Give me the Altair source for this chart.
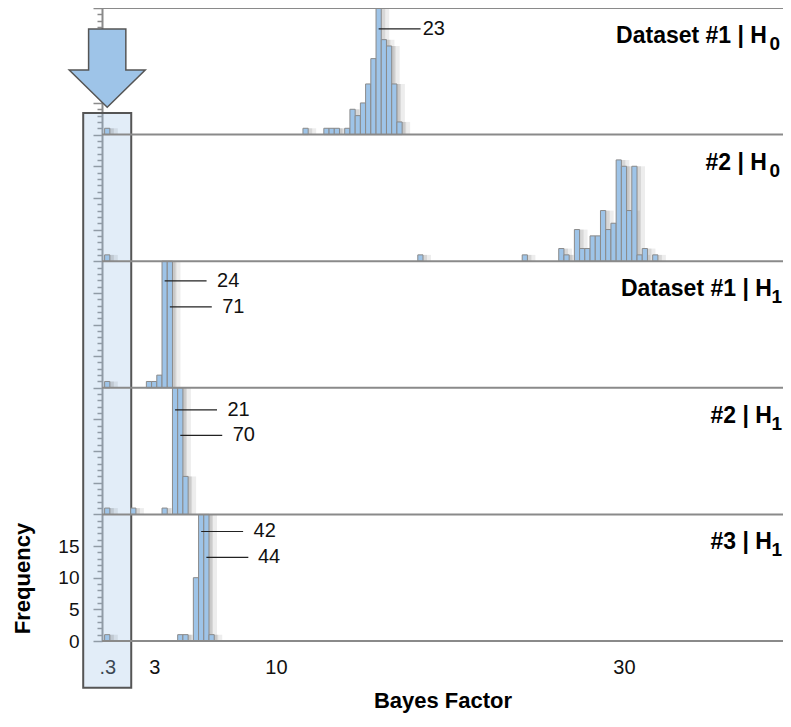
import altair as alt
import pandas as pd

# ---------------- data (panels listed top to bottom) ----------------
PANEL_MAIN = ["Dataset #1 | H", "#2 | H", "Dataset #1 | H", "#2 | H", "#3 | H"]
PANEL_SUB = ["0", "0", "1", "1", "1"]

p1_bf = [0.3, 11.7, 12.9, 13.2, 13.5, 14.1, 14.4, 14.7, 15.0, 15.3, 15.6, 15.9, 16.2, 16.5, 16.8, 17.1]
p1_n = [1, 1, 1, 1, 1, 1, 4, 3, 5, 8, 12, 23, 15, 14, 8, 2]

p2_bf = [0.3, 18.3, 24.3, 26.4, 26.7, 27.3, 27.6, 27.9, 28.2, 28.5, 28.8, 29.1, 29.4, 29.7,
         30.0, 30.3, 30.6, 30.9, 31.2, 31.8]
p2_n = [1, 1, 1, 2, 1, 5, 2, 2, 4, 4, 8, 5, 6, 16, 15, 8, 15, 1, 2, 1]

p3_bf = [0.3, 2.7, 3.0, 3.3, 3.6, 3.9]
p3_n = [1, 1, 1, 2, 24, 71]

p4_bf = [0.3, 1.8, 3.6, 4.2, 4.5, 4.8]
p4_n = [1, 1, 1, 21, 70, 6]

p5_bf = [0.3, 4.5, 4.8, 5.4, 5.7, 6.0, 6.3]
p5_n = [1, 1, 1, 10, 42, 44, 1]

X_TICKS = [0.3, 3, 10, 30]

# ---------------- layout constants ----------------
BIN = 0.3          # histogram bin width (Bayes factor units)
CAP = 20           # per-panel frequency range
W, H = 681, 633
X_MAX = 39.14
# height (within panel) of the call-out lines for clipped bars, in order of appearance
CALLOUT_Y = [16.7, 16.9, 12.8, 16.5, 12.5, 17.3, 13.2]
CALLOUT_GAP = [0.12, 0.6, 0.6, 0.6, 0.6, 0.6, 0.55]
CALLOUT_LEN = 2.41

FONT = "Liberation Sans"
BLUE = "#9ec4e8"

panels = [(p1_bf, p1_n), (p2_bf, p2_n), (p3_bf, p3_n), (p4_bf, p4_n), (p5_bf, p5_n)]
rows = []
for i, (bfs, ns) in enumerate(panels):
    for bf, n in zip(bfs, ns):
        rows.append({"panel": i, "bf": bf, "n": n})
bars = pd.DataFrame(rows)

call_rows = bars[bars["n"] > CAP].reset_index(drop=True).copy()
call_rows["ly"] = CALLOUT_Y
call_rows["gap"] = CALLOUT_GAP
call_rows["off"] = (4 - call_rows["panel"]) * CAP
call_rows["yy"] = call_rows["off"] + call_rows["ly"]
call_rows["xa"] = call_rows["bf"]
call_rows["xb"] = call_rows["bf"] + CALLOUT_LEN
call_rows["xt"] = call_rows["xb"] + call_rows["gap"]

titles = pd.DataFrame({
    "panel": list(range(5)),
    "main": PANEL_MAIN,
    "sub": PANEL_SUB,
})
titles["ytop"] = (4 - titles["panel"]) * CAP + CAP
titles["xm"] = [38.22 if s == "0" else 38.5 for s in PANEL_SUB]
titles["xs"] = [38.97 if s == "0" else 39.08 for s in PANEL_SUB]

frames = pd.DataFrame({"y": [0, 20, 40, 60, 80, 100], "x": 0.0, "x2": X_MAX})
box = pd.DataFrame({"x": [-1.08], "x2": [1.68], "y": [83.4], "y2": [-7.4]})
arrow = pd.DataFrame({"x": [0.3], "y": [90.5]})

XS = alt.Scale(domain=[0, X_MAX], nice=False, zero=False)
YS = alt.Scale(domain=[0, 5 * CAP], nice=False, zero=False)

X_AX = alt.Axis(
    values=X_TICKS, labelExpr="datum.value < 1 ? '.3' : datum.label",
    ticks=False, tickSize=0, domain=False, grid=False, labelFlush=False,
    labelFontSize=20, labelFont=FONT, labelColor="#111", labelPadding=16,
    title="Bayes Factor", titleFont=FONT, titleFontSize=22, titleFontWeight="bold",
    titleColor="#000", titleY=66, titleBaseline="alphabetic",
)
Y_AX = alt.Axis(
    values=list(range(0, 101)),
    labelExpr="(datum.value <= 15 && datum.value % 5 == 0) ? ('' + datum.value) : ''",
    labelOverlap=False, labelBound=False, labelFlush=False,
    tickSize={"condition": {"test": "datum.value % 5 == 0", "value": 9}, "value": 5},
    tickColor="#8a8a8a", tickWidth=1.5, domainColor="#8a8a8a", domainWidth=2, grid=False,
    labelFontSize=19, labelFont=FONT, labelColor="#111", labelPadding=14,
    title="Frequency", titleFont=FONT, titleFontSize=22, titleFontWeight="bold",
    titleColor="#000", titleX=-73, titleY=570, titleAngle=270, titleAlign="center",
    titleBaseline="alphabetic",
)


def X(f):
    return alt.X(f, type="quantitative", scale=XS, axis=X_AX)


def Y(f):
    return alt.Y(f, type="quantitative", scale=YS, axis=Y_AX)


box_layer = alt.Chart(box).mark_rect(
    fill=BLUE, fillOpacity=0.3, stroke="#555", strokeWidth=2, clip=False
).encode(x=X("x"), x2="x2", y=Y("y"), y2="y2")

bar_base = alt.Chart(bars).transform_calculate(
    off=f"(4 - datum.panel) * {CAP}",
    x0=f"datum.bf - {BIN / 2}",
    x1=f"datum.bf + {BIN / 2}",
).transform_calculate(
    y0="datum.off",
    y1=f"datum.off + min(datum.n, {CAP})",
)
bar_enc = dict(x=X("x0"), x2="x1", y=Y("y0"), y2="y1")

shadow1 = bar_base.mark_rect(color="#000", opacity=0.07, xOffset=1, x2Offset=8).encode(**bar_enc)
shadow2 = bar_base.mark_rect(color="#000", opacity=0.09, xOffset=1, x2Offset=4).encode(**bar_enc)
bar_layer = bar_base.mark_rect(fill=BLUE, stroke="#8a8a8a", strokeWidth=1).encode(**bar_enc)

frame_layer = alt.Chart(frames).mark_rule(color="#8a8a8a", strokeWidth=2).encode(
    x=X("x"), x2="x2", y=Y("y")
)

call_line = alt.Chart(call_rows).mark_rule(color="#222", strokeWidth=1.2).encode(
    x=X("xa"), x2="xb", y=Y("yy")
)
call_text = alt.Chart(call_rows).mark_text(
    align="left", baseline="middle", fontSize=20, font=FONT, color="#111"
).encode(x=X("xt"), y=Y("yy"), text="n:Q")

arrow_path = "M -0.49 -1.03 L 0.49 -1.03 L 0.49 0.05 L 1 0.05 L 0 1.03 L -1 0.05 L -0.49 0.05 Z"
arrow_layer = alt.Chart(arrow).mark_point(
    shape=arrow_path, size=5776, filled=True, fill=BLUE, stroke="#555",
    strokeWidth=1.5, opacity=1, clip=False
).encode(x=X("x"), y=Y("y"))

title_main = alt.Chart(titles).mark_text(
    align="right", baseline="alphabetic", dy=35, fontSize=23, fontWeight="bold",
    font=FONT, color="#000"
).encode(x=X("xm"), y=Y("ytop"), text="main:N")
title_sub = alt.Chart(titles).mark_text(
    align="right", baseline="alphabetic", dy=42, fontSize=19, fontWeight="bold",
    font=FONT, color="#000"
).encode(x=X("xs"), y=Y("ytop"), text="sub:N")

chart = alt.layer(
    box_layer, shadow1, shadow2, bar_layer, frame_layer, call_line, call_text,
    arrow_layer, title_main, title_sub
).properties(
    width=W, height=H,
    autosize=alt.AutoSizeParams(type="none"),
    padding={"left": 94, "top": 0, "right": 0, "bottom": 74},
).configure_view(stroke=None).configure(font=FONT)

chart.save("out.html", embed_options={"renderer": "svg", "actions": False})
